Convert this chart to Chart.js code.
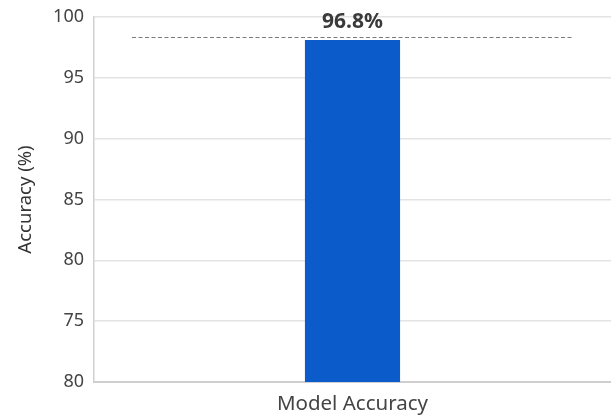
<!DOCTYPE html>
<html>
<head>
<meta charset="utf-8">
<script src="https://cdn.jsdelivr.net/npm/chart.js@4"></script>
<style>
  html, body { margin: 0; padding: 0; background: #fff; }
  #wrap { width: 611px; height: 418px; }
</style>
</head>
<body>
<div id="wrap"><canvas id="chart" width="611" height="418"></canvas></div>
<script>
// Chart data
const categories = ['Model Accuracy'];
const accuracy = [96.8];
const valueLabels = ['96.8%'];
// Y-axis tick labels, bottom to top
const yTickLabels = ['80', '75', '80', '85', '90', '95', '100'];
// Value range covered by the y axis
const yMin = 49.2;
const yMax = 100;

const FONT = '"Noto Sans", "Open Sans", sans-serif';

// Dashed guide line just above the bar plus the bold value label
const guidePlugin = {
  id: 'guideAndLabel',
  afterDatasetsDraw(chart) {
    const { ctx, chartArea, scales } = chart;
    const meta = chart.getDatasetMeta(0);
    ctx.save();
    meta.data.forEach((bar, i) => {
      const y = scales.y.getPixelForValue(accuracy[i]) - 2.5;
      ctx.strokeStyle = '#7a7a7a';
      ctx.lineWidth = 1;
      ctx.setLineDash([4, 2.5]);
      ctx.beginPath();
      ctx.moveTo(chartArea.left + 38, y);
      ctx.lineTo(chartArea.right - 39, y);
      ctx.stroke();
      ctx.setLineDash([]);
      ctx.fillStyle = '#3a3a3a';
      ctx.font = 'bold 21px ' + FONT;
      ctx.textAlign = 'center';
      ctx.textBaseline = 'middle';
      ctx.fillText(valueLabels[i], bar.x, y - 15);
    });
    ctx.restore();
  }
};

const tickStep = (yMax - yMin) / (yTickLabels.length - 1);

new Chart(document.getElementById('chart'), {
  type: 'bar',
  data: {
    labels: categories,
    datasets: [{
      data: accuracy,
      backgroundColor: '#0b5bcb',
      borderWidth: 0,
      categoryPercentage: 1,
      barPercentage: 0.184
    }]
  },
  options: {
    responsive: false,
    animation: false,
    layout: { padding: { top: 0, right: 0, left: 6.9, bottom: -8.6 } },
    plugins: { legend: { display: false }, tooltip: { enabled: false } },
    scales: {
      x: {
        grid: { display: false, drawTicks: false },
        border: { color: '#cfcfcf', width: 2 },
        ticks: { color: '#444', font: { family: FONT, size: 20.5 }, padding: 10 }
      },
      y: {
        min: yMin,
        max: yMax,
        afterBuildTicks(scale) {
          scale.ticks = yTickLabels.map((_, i) => ({ value: yMin + i * tickStep }));
        },
        afterFit(scale) {
          // room above the plot for the top tick label
          scale.paddingTop = 17;
        },
        grid: { color: '#e3e3e3', lineWidth: 1.5, drawTicks: false },
        border: { color: '#d0d0d0', width: 1.5 },
        ticks: {
          color: '#444',
          font: { family: FONT, size: 18 },
          padding: 10,
          callback: (v, i) => yTickLabels[i]
        },
        title: {
          display: true,
          text: 'Accuracy (%)',
          color: '#333',
          font: { family: FONT, size: 18.5 },
          padding: { top: 7.5, bottom: 6.5 }
        }
      }
    }
  },
  plugins: [guidePlugin]
});
</script>
</body>
</html>
